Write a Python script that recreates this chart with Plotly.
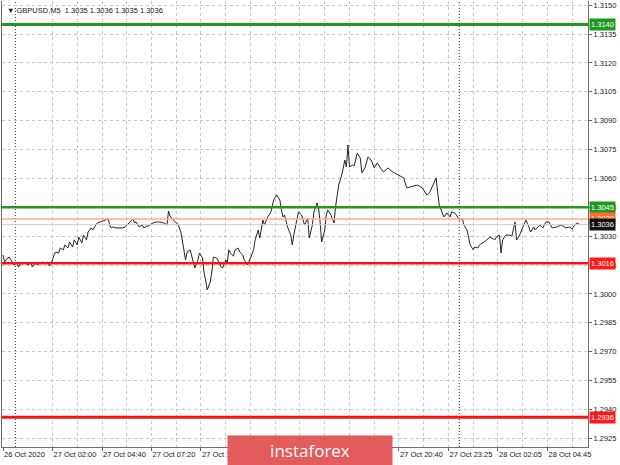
import plotly.graph_objects as go

# ---- data (5-minute bar index since 26 Oct 2020 23:20, close price) ----
bars = [0, 1, 3, 4, 6, 7, 9, 10, 12, 13, 15, 16, 18, 19, 21, 22, 24, 26, 27, 29,
        30, 32, 33, 34, 36, 37, 39, 40, 42, 43, 45, 46, 48, 49, 51, 52, 54, 55, 57, 58,
        60, 61, 63, 65, 66, 68, 69, 70, 71, 73, 75, 77, 79, 81, 82, 84, 85, 86, 88, 90,
        91, 93, 94, 95, 97, 99, 101, 104, 106, 107, 108, 110, 113, 115, 116, 118, 119, 121, 123, 124,
        126, 127, 129, 130, 131, 132, 134, 135, 136, 138, 140, 141, 142, 144, 145, 146, 147, 149, 150, 152,
        153, 155, 156, 158, 160, 162, 163, 165, 166, 168, 169, 171, 173, 174, 175, 177, 179, 180, 181, 182,
        184, 186, 187, 188, 191, 193, 195, 197, 198, 200, 201, 203, 204, 205, 206, 208, 209, 210, 212, 214,
        215, 217, 219, 221, 222, 223, 224, 226, 227, 229, 231, 232, 234, 236, 238, 240, 242, 244, 246, 249,
        251, 253, 256, 259, 261, 264, 268, 271, 274, 276, 279, 280, 281, 282, 284, 285, 287, 289, 290, 292,
        294, 295, 297, 298, 300, 301, 302, 304, 305, 307, 308, 311, 313, 315, 318, 319, 321, 322, 323, 325,
        327, 329, 331, 332, 334, 336, 338, 340, 341, 343, 344, 347, 349, 351, 353, 355, 358, 361, 364, 366,
        368, 369, 371, 373]
close = [1.30203, 1.30166, 1.30187, 1.30192, 1.30166, 1.30151, 1.30161, 1.30140, 1.30166, 1.30156,
         1.30166, 1.30151, 1.30161, 1.30140, 1.30166, 1.30151, 1.30161, 1.30166, 1.30161, 1.30166,
         1.30145, 1.30177, 1.30203, 1.30218, 1.30213, 1.30239, 1.30229, 1.30255, 1.30239, 1.30270,
         1.30244, 1.30281, 1.30255, 1.30296, 1.30265, 1.30306, 1.30281, 1.30322, 1.30343, 1.30332,
         1.30358, 1.30369, 1.30374, 1.30379, 1.30384, 1.30390, 1.30358, 1.30343, 1.30348, 1.30343,
         1.30343, 1.30343, 1.30348, 1.30364, 1.30374, 1.30390, 1.30369, 1.30374, 1.30348, 1.30358,
         1.30343, 1.30353, 1.30353, 1.30358, 1.30369, 1.30374, 1.30374, 1.30369, 1.30358, 1.30431,
         1.30405, 1.30384, 1.30364, 1.30322, 1.30265, 1.30177, 1.30218, 1.30229, 1.30166, 1.30135,
         1.30177, 1.30213, 1.30187, 1.30109, 1.30073, 1.30021, 1.30062, 1.30114, 1.30192, 1.30187,
         1.30161, 1.30140, 1.30135, 1.30177, 1.30161, 1.30229, 1.30213, 1.30197, 1.30229, 1.30239,
         1.30218, 1.30203, 1.30177, 1.30151, 1.30187, 1.30229, 1.30281, 1.30332, 1.30291, 1.30384,
         1.30358, 1.30400, 1.30421, 1.30452, 1.30488, 1.30514, 1.30488, 1.30436, 1.30400, 1.30410,
         1.30348, 1.30306, 1.30255, 1.30306, 1.30426, 1.30410, 1.30358, 1.30395, 1.30291, 1.30358,
         1.30426, 1.30473, 1.30447, 1.30374, 1.30270, 1.30332, 1.30410, 1.30436, 1.30410, 1.30369,
         1.30452, 1.30566, 1.30618, 1.30696, 1.30660, 1.30774, 1.30660, 1.30670, 1.30665, 1.30732,
         1.30706, 1.30629, 1.30655, 1.30712, 1.30696, 1.30655, 1.30681, 1.30655, 1.30634, 1.30655,
         1.30639, 1.30629, 1.30618, 1.30603, 1.30551, 1.30556, 1.30566, 1.30551, 1.30514, 1.30530,
         1.30582, 1.30603, 1.30530, 1.30462, 1.30421, 1.30400, 1.30421, 1.30400, 1.30426, 1.30421,
         1.30400, 1.30384, 1.30390, 1.30358, 1.30332, 1.30296, 1.30255, 1.30229, 1.30244, 1.30239,
         1.30255, 1.30270, 1.30281, 1.30296, 1.30281, 1.30296, 1.30306, 1.30213, 1.30281, 1.30306,
         1.30306, 1.30301, 1.30374, 1.30281, 1.30306, 1.30343, 1.30384, 1.30348, 1.30322, 1.30348,
         1.30332, 1.30358, 1.30343, 1.30374, 1.30374, 1.30343, 1.30348, 1.30358, 1.30343, 1.30348,
         1.30338, 1.30353, 1.30369, 1.30360]

tick_bars = [0, 32, 64, 96, 128, 160, 192, 224, 256, 288, 320, 352]
# labels at 160/192/224 are hidden under the watermark in the reference
tick_text = ["26 Oct 2020", "27 Oct 02:00", "27 Oct 04:40", "27 Oct 07:20", "27 Oct 10:00",
             "", "", "", "27 Oct 20:40", "27 Oct 23:25",
             "28 Oct 02:05", "28 Oct 04:45"]
grid_bars = [32, 48, 64, 80, 96, 112, 128, 144, 160, 176, 192, 208, 224, 240, 256, 272,
             288, 304, 320, 336, 352, 368]
day_sep_bars = [8, 295]

level_values = [1.3140, 1.3045, 1.3039, 1.3036, 1.3016, 1.2936]
level_labels = ["1.3140", "1.3045", "1.3039", "1.3036", "1.3016", "1.2936"]
level_line_colors = ["#1f9a1f", "#1f9a1f", "#ffab85", "#c9ccd6", "#ff1010", "#ff1010"]
level_line_widths = [3, 2.5, 1.5, 1, 2.5, 3]
level_box_colors = ["#1f9a1f", "#1f9a1f", "#ff6a30", "#111111", "#ff1a1a", "#ff1a1a"]

title_text = "▼ GBPUSD,M5  1.3035 1.3036 1.3035 1.3036"

FONT = "Liberation Sans, Arial, sans-serif"
GRID = "#c6c6c6"

fig = go.Figure()
fig.add_trace(go.Scatter(x=bars, y=close, mode="lines",
                         line=dict(color="#262626", width=1), hoverinfo="skip",
                         showlegend=False))

shapes = []
for b in day_sep_bars:
    shapes.append(dict(type="line", xref="x", yref="paper", x0=b, x1=b, y0=0, y1=1,
                       line=dict(color="#333333", width=1, dash="1px,2px"), layer="below"))
for v, c, w in zip(level_values, level_line_colors, level_line_widths):
    shapes.append(dict(type="line", xref="paper", yref="y", x0=0, x1=1, y0=v, y1=v,
                       line=dict(color=c, width=w), layer="above"))

annotations = []
for v, t, c in zip(level_values, level_labels, level_box_colors):
    annotations.append(dict(xref="paper", yref="y", x=1, y=v, xanchor="left", yanchor="middle",
                            text=t, showarrow=False, bgcolor=c, borderpad=1, xshift=1,
                            font=dict(family=FONT, size=7.5, color="white")))
annotations.append(dict(xref="paper", yref="paper", x=0, y=1, xanchor="left", yanchor="top",
                        xshift=3, yshift=-3, text=title_text, showarrow=False,
                        font=dict(family=FONT, size=7.5, color="#1a1a1a")))
annotations.append(dict(xref="paper", yref="paper", x=(310 - 2) / 586, y=(447 - 450.5) / 446,
                        xanchor="center", yanchor="middle", text="instaforex", showarrow=False,
                        width=164, height=29, bgcolor="#e25c5c", borderpad=0,
                        font=dict(family="Open Sans, sans-serif", size=17, color="white")))

fig.update_layout(
    width=620, height=465,
    margin=dict(l=2, r=32, t=1, b=18),
    paper_bgcolor="white", plot_bgcolor="white",
    font=dict(family=FONT, size=7.5, color="#1a1a1a"),
    shapes=shapes, annotations=annotations,
    xaxis=dict(range=[-0.65, 378.2], tickmode="array", tickvals=tick_bars, ticktext=tick_text,
               ticklabelposition="outside right", ticks="outside", ticklen=3, tickangle=0,
               automargin=False,
               tickcolor="#666666", showgrid=False, zeroline=False,
               showline=True, linecolor="#6e6e6e", linewidth=1,
               minor=dict(tickmode="array", tickvals=grid_bars, showgrid=True,
                          gridcolor=GRID, griddash="3px,3px", gridwidth=1, ticks=""),
               tickfont=dict(family=FONT, size=7.5, color="#1a1a1a")),
    yaxis=dict(range=[1.29205, 1.31522], side="right", tick0=1.2925, dtick=0.0015,
               tickformat=".4f", ticks="outside", ticklen=3, tickcolor="#666666",
               automargin=False,
               showgrid=True, gridcolor=GRID, griddash="3px,3px", zeroline=False,
               showline=True, linecolor="#6e6e6e", linewidth=1, mirror=True,
               tickfont=dict(family=FONT, size=7.5, color="#1a1a1a")),
)

fig.write_html("out.html", config={"displayModeBar": False},
               post_script="document.body.style.margin='0';document.body.style.padding='0';")
